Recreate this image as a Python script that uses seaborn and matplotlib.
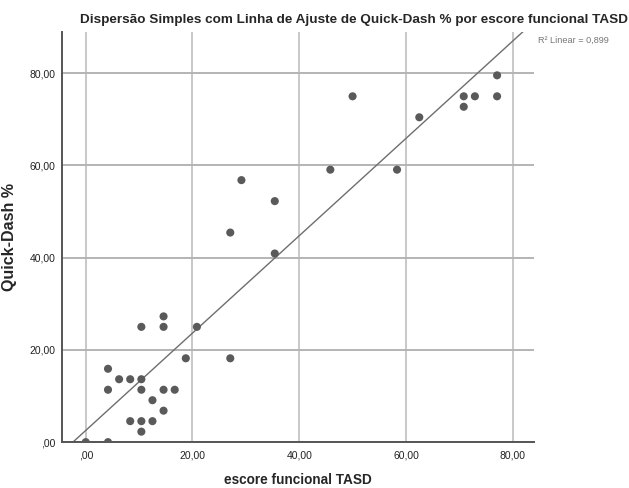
import matplotlib
matplotlib.use("Agg")
import matplotlib.pyplot as plt
import seaborn as sns
import pandas as pd

# ─── Dados ───────────────────────────────────────────────────────────────────
escore_tasd = [0.00, 4.17, 4.17, 4.17, 6.25, 8.33, 8.33, 10.42, 10.42, 10.42,
               10.42, 10.42, 12.50, 12.50, 14.58, 14.58, 14.58, 14.58, 16.67, 18.75,
               20.83, 27.08, 27.08, 29.17, 35.42, 35.42, 45.83, 50.00, 58.33, 62.50,
               70.83, 70.83, 72.92, 77.08, 77.08]
quick_dash = [0.00, 0.00, 11.36, 15.91, 13.64, 13.64, 4.55, 25.00, 13.64, 11.36,
              4.55, 2.27, 9.09, 4.55, 27.27, 25.00, 11.36, 6.82, 11.36, 18.18,
              25.00, 18.18, 45.45, 56.82, 52.27, 40.91, 59.09, 75.00, 59.09, 70.45,
              75.00, 72.73, 75.00, 79.55, 75.00]

x_ticks = [0, 20, 40, 60, 80]
x_tick_labels = [',00', '20,00', '40,00', '60,00', '80,00']
y_ticks = [0, 20, 40, 60, 80]
y_tick_labels = [',00', '20,00', '40,00', '60,00', '80,00']

titulo = 'Dispersão Simples com Linha de Ajuste de Quick-Dash % por escore funcional TASD'
rotulo_x = 'escore funcional TASD'
rotulo_y = 'Quick-Dash %'
texto_r2 = 'R² Linear = 0,899'

df = pd.DataFrame({'tasd': escore_tasd, 'qdash': quick_dash})

# ─── Estilo ──────────────────────────────────────────────────────────────────
sns.set_theme(style='white')
plt.rcParams['font.family'] = ['Liberation Sans', 'DejaVu Sans']

fig = plt.figure(figsize=(6.29, 4.88), dpi=100)
ax = fig.add_axes([0.099, 0.094, 0.750, 0.840])

ax.set_xlim(-4.4, 84.0)
ax.set_ylim(0, 88.9)

# grade (linhas verticais mais claras, como no SPSS)
for v in x_ticks:
    ax.axvline(v, color='#c8c8c8', lw=1.4, zorder=0)
for v in y_ticks:
    ax.axhline(v, color='#b4b4b4', lw=1.4, zorder=0)

# linha de ajuste linear + pontos
sns.regplot(data=df, x='tasd', y='qdash', scatter=False, ci=None, truncate=False,
            line_kws={'color': '#6e6e6e', 'lw': 1.0}, ax=ax)
sns.scatterplot(data=df, x='tasd', y='qdash', color='#5a5a5a', s=34,
                edgecolor='none', ax=ax, zorder=3)

ax.set_xlim(-4.4, 84.0)
ax.set_ylim(0, 88.9)

ax.set_xticks(x_ticks)
ax.set_xticklabels(x_tick_labels)
ax.set_yticks(y_ticks)
ax.set_yticklabels(y_tick_labels)
ax.tick_params(axis='both', length=0, labelsize=7.5, colors='#222222')
ax.tick_params(axis='x', pad=6)
ax.tick_params(axis='y', pad=5)

for lado in ['top', 'right']:
    ax.spines[lado].set_visible(False)
for lado in ['left', 'bottom']:
    ax.spines[lado].set_color('#555555')
    ax.spines[lado].set_linewidth(1.4)

ax.set_xlabel(rotulo_x, fontsize=9.8, fontweight='bold', labelpad=9)
ax.set_ylabel(rotulo_y, fontsize=11.5, fontweight='bold', labelpad=9)

fig.text(0.563, 0.959, titulo, ha='center', va='center', fontsize=9.7, fontweight='bold')
fig.text(0.855, 0.917, texto_r2, ha='left', va='center', fontsize=6.6, color='#777777')

plt.savefig('out.png', dpi=100)
